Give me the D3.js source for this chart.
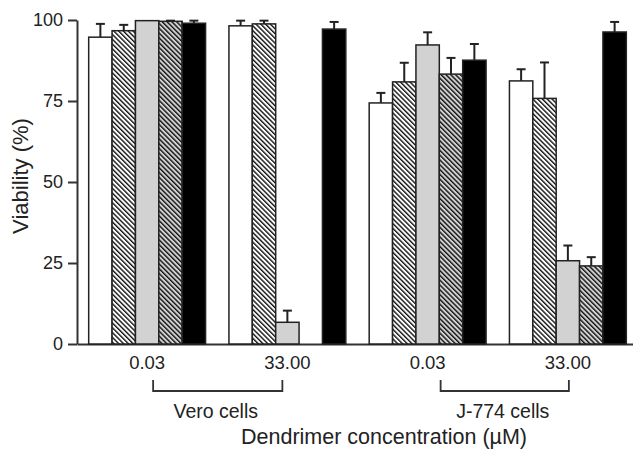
<!DOCTYPE html>
<html>
<head>
<meta charset="utf-8">
<script src="https://cdn.jsdelivr.net/npm/d3@7"></script>
<style>
  body { margin: 0; background: #fff; }
  svg { display: block; font-family: "Liberation Sans", Arial, sans-serif; }
</style>
</head>
<body>
<svg id="chart" width="633" height="450"></svg>
<script>
// groups along the x axis (cell line + concentration)
const groups = ["Vero 0.03", "Vero 33.00", "J774 0.03", "J774 33.00"];
const groupLabels = ["0.03", "33.00", "0.03", "33.00"];
const series = ["open", "hatched", "grey", "greyHatched", "solid"];

// viability (%) per series, one value per group
const openVals        = [94.7, 98.2, 74.4, 81.2];
const hatchedVals     = [96.7, 98.8, 80.9, 75.8];
const greyVals        = [99.8, 6.7, 92.3, 25.7];
const greyHatchedVals = [99.6, 0, 83.3, 24.1];
const solidVals       = [99.0, 97.2, 87.6, 96.3];

// upper error (SD)
const openErr        = [4.1, 1.6, 3.1, 3.6];
const hatchedErr     = [1.8, 1.0, 5.9, 11.1];
const greyErr        = [0, 3.6, 3.9, 4.7];
const greyHatchedErr = [0.2, 0, 5.0, 2.7];
const solidErr       = [0.8, 2.2, 5.0, 3.1];

const yTicks = [0, 25, 50, 75, 100];
const cellLines = ["Vero cells", "J-774 cells"];

const values = [openVals, hatchedVals, greyVals, greyHatchedVals, solidVals];
const errors = [openErr, hatchedErr, greyErr, greyHatchedErr, solidErr];

const svg = d3.select("#chart");
const ink = "#222";

// hatch patterns
const defs = svg.append("defs");
function hatch(id, bg) {
  const p = defs.append("pattern")
    .attr("id", id)
    .attr("patternUnits", "userSpaceOnUse")
    .attr("width", 3.4).attr("height", 3.4)
    .attr("patternTransform", "rotate(-45)");
  p.append("rect").attr("width", 3.4).attr("height", 3.4).attr("fill", bg);
  p.append("line").attr("x1", 0.7).attr("x2", 0.7).attr("y1", 0).attr("y2", 3.4)
    .attr("stroke", "#111").attr("stroke-width", 1.4);
}
hatch("hatchWhite", "#fff");
hatch("hatchGrey", "#d2d2d2");

const fills = {
  open: "#fff",
  hatched: "url(#hatchWhite)",
  grey: "#d2d2d2",
  greyHatched: "url(#hatchGrey)",
  solid: "#000"
};

const x0 = d3.scaleBand().domain(groups).range([77, 638]).padding(0);
const x1 = d3.scaleBand().domain(series).range([0, x0.bandwidth()])
  .paddingInner(0).paddingOuter(0.5);
const y = d3.scaleLinear().domain([0, 100]).range([344, 20]);

// y axis
const yAxis = svg.append("g")
  .attr("transform", "translate(77,0)")
  .call(d3.axisLeft(y).tickValues(yTicks).tickSize(9).tickSizeOuter(0).tickPadding(5));
yAxis.attr("font-family", null).attr("font-size", 18);
yAxis.selectAll("text").attr("fill", ink);
yAxis.selectAll("line").attr("stroke", "#333").attr("stroke-width", 2);
yAxis.select(".domain").attr("stroke", "#333").attr("stroke-width", 2);

// x axis
const xAxis = svg.append("g")
  .attr("transform", "translate(0,344)")
  .call(d3.axisBottom(x0).tickSize(0).tickSizeOuter(0).tickPadding(12)
    .tickFormat((d, i) => groupLabels[i]));
xAxis.attr("font-family", null).attr("font-size", 18.5);
xAxis.selectAll("text").attr("fill", ink);
xAxis.select(".domain").attr("stroke", "#333").attr("stroke-width", 2);

// bars
const cells = [];
groups.forEach((g, gi) => {
  series.forEach((s, si) => {
    cells.push({ group: g, series: s, value: values[si][gi], err: errors[si][gi] });
  });
});

const bars = svg.append("g");
bars.selectAll("rect")
  .data(cells.filter(d => d.value > 0))
  .join("rect")
  .attr("x", d => x0(d.group) + x1(d.series))
  .attr("y", d => y(d.value))
  .attr("width", x1.bandwidth())
  .attr("height", d => y(0) - y(d.value))
  .attr("fill", d => fills[d.series])
  .attr("stroke", ink)
  .attr("stroke-width", 1.5);

// upper error bars
const errG = svg.append("g").attr("stroke", ink).attr("stroke-width", 2);
const withErr = cells.filter(d => d.err > 0);
const cx = d => x0(d.group) + x1(d.series) + x1.bandwidth() / 2;
errG.selectAll("line.v")
  .data(withErr)
  .join("line")
  .attr("class", "v")
  .attr("x1", cx).attr("x2", cx)
  .attr("y1", d => y(d.value)).attr("y2", d => y(d.value + d.err));
errG.selectAll("line.c")
  .data(withErr)
  .join("line")
  .attr("class", "c")
  .attr("x1", d => cx(d) - 4.5).attr("x2", d => cx(d) + 4.5)
  .attr("y1", d => y(d.value + d.err)).attr("y2", d => y(d.value + d.err));

// cell line brackets
const mid = g => x0(g) + x0.bandwidth() / 2;
const brackets = [
  { label: cellLines[0], x1: mid(groups[0]) + 6, x2: mid(groups[1]) - 5 },
  { label: cellLines[1], x1: mid(groups[2]) + 13, x2: mid(groups[3]) + 1 }
];
const br = svg.append("g");
br.selectAll("path")
  .data(brackets)
  .join("path")
  .attr("d", d => `M${d.x1},380V391H${d.x2}V380`)
  .attr("fill", "none")
  .attr("stroke", "#333")
  .attr("stroke-width", 1.8);
br.selectAll("text")
  .data(brackets)
  .join("text")
  .attr("x", d => (d.x1 + d.x2) / 2 - 2)
  .attr("y", 418)
  .attr("text-anchor", "middle")
  .attr("font-size", 19.5)
  .attr("fill", ink)
  .text(d => d.label);

// axis titles
svg.append("text")
  .attr("x", 384).attr("y", 444)
  .attr("text-anchor", "middle")
  .attr("font-size", 21.5)
  .attr("fill", ink)
  .text("Dendrimer concentration (µM)");

svg.append("text")
  .attr("transform", "translate(28,176) rotate(-90)")
  .attr("text-anchor", "middle")
  .attr("font-size", 22)
  .attr("fill", ink)
  .text("Viability (%)");
</script>
</body>
</html>
